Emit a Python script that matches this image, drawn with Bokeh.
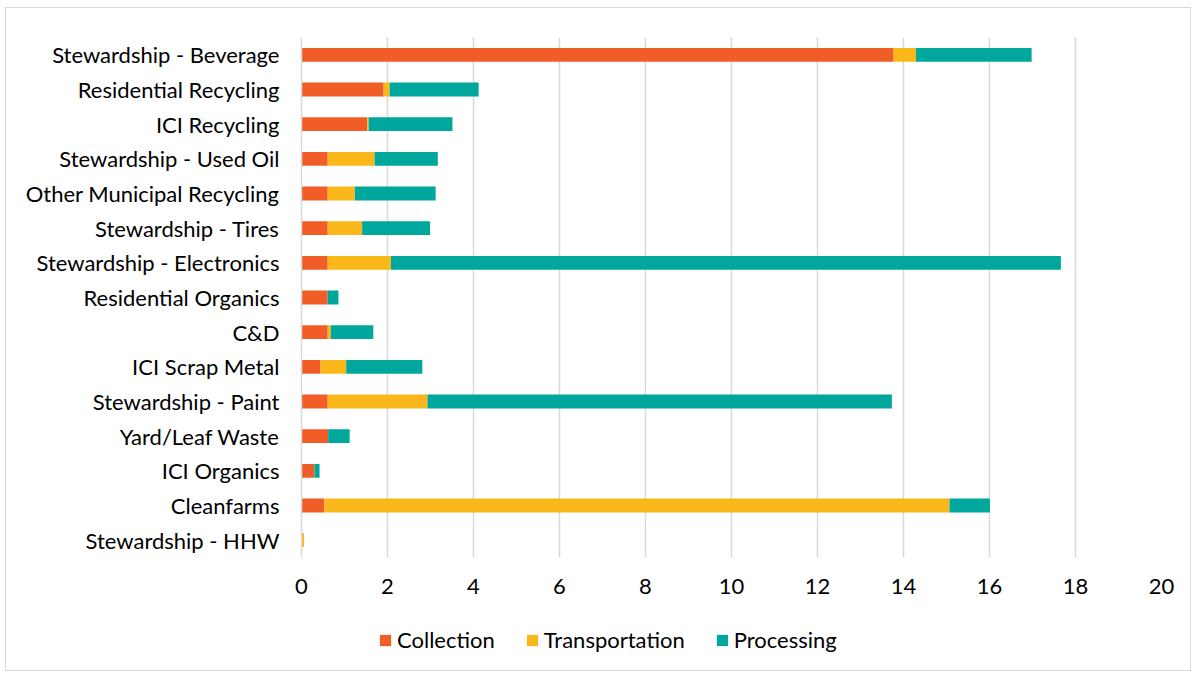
from bokeh.plotting import figure
from bokeh.layouts import column
from bokeh.models import FactorRange, Range1d, Legend, LegendItem, ColumnDataSource, FixedTicker
from bokeh.embed import file_html
from bokeh.resources import INLINE

categories = [
    "Stewardship - Beverage",
    "Residential Recycling",
    "ICI Recycling",
    "Stewardship - Used Oil",
    "Other Municipal Recycling",
    "Stewardship - Tires",
    "Stewardship - Electronics",
    "Residential Organics",
    "C&D",
    "ICI Scrap Metal",
    "Stewardship - Paint",
    "Yard/Leaf Waste",
    "ICI Organics",
    "Cleanfarms",
    "Stewardship - HHW",
]
collection = [13.77, 1.91, 1.53, 0.61, 0.61, 0.61, 0.61, 0.61, 0.61, 0.44, 0.61, 0.62, 0.30, 0.53, 0.0]
transportation = [0.52, 0.14, 0.03, 1.09, 0.63, 0.80, 1.47, 0.0, 0.07, 0.60, 2.32, 0.0, 0.0, 14.54, 0.06]
processing = [2.69, 2.07, 1.95, 1.47, 1.88, 1.58, 15.58, 0.25, 0.99, 1.77, 10.80, 0.50, 0.12, 0.94, 0.0]
series_names = ["Collection", "Transportation", "Processing"]
series_colors = ["#F15D27", "#F9B71A", "#00A79D"]
x_ticks = [0, 2, 4, 6, 8, 10, 12, 14, 16, 18, 20]

FONT = "Lato"
FS = "22px"
W = 1184

source = ColumnDataSource(dict(
    cat=categories,
    Collection=collection,
    Transportation=transportation,
    Processing=processing,
))

p = figure(
    width=W, height=610,
    y_range=FactorRange(*categories[::-1]),
    x_range=Range1d(x_ticks[0], x_ticks[-1]),
    output_backend="svg", toolbar_location=None,
    min_border_left=295, min_border_right=29,
    min_border_top=29, min_border_bottom=61,
)

renderers = p.hbar_stack(series_names, y="cat", height=0.4, color=series_colors,
                         line_color=None, source=source)

p.outline_line_color = None
p.ygrid.grid_line_color = None
p.xgrid.grid_line_color = "#d9d9d9"
p.xgrid.grid_line_width = 1.5
p.xaxis.ticker = FixedTicker(ticks=x_ticks)

p.xaxis.axis_line_color = None
p.xaxis.major_tick_line_color = None
p.xaxis.minor_tick_line_color = None
p.xaxis.major_label_standoff = 15
p.xaxis.major_label_text_font = FONT
p.xaxis.major_label_text_font_size = FS
p.xaxis.major_label_text_color = "#000000"

p.yaxis.axis_line_color = "#d9d9d9"
p.yaxis.axis_line_width = 1.5
p.yaxis.major_tick_line_color = None
p.yaxis.minor_tick_line_color = None
p.yaxis.major_label_standoff = 16
p.yaxis.major_label_text_font = FONT
p.yaxis.major_label_text_font_size = FS
p.yaxis.major_label_text_color = "#000000"

# legend strip below the chart (its frame is aligned with the main chart's frame)
lg = figure(
    width=W, height=52,
    x_range=Range1d(0, 1), y_range=Range1d(0, 1),
    output_backend="svg", toolbar_location=None,
    min_border=0, min_border_left=0, min_border_right=0,
    min_border_top=0, min_border_bottom=0,
)
lg.axis.visible = False
lg.grid.visible = False
lg.outline_line_color = None
swatches = [lg.hbar(y=[-5], left=[-5], right=[-4], height=0.5, color=c, line_color=None)
            for c in series_colors]

legend = Legend(
    items=[LegendItem(label=n, renderers=[r]) for n, r in zip(series_names, swatches)],
    orientation="horizontal",
    location=(77, 17),
    glyph_width=14, glyph_height=14,
    label_standoff=5, spacing=30,
    padding=0, margin=0,
    border_line_color=None, background_fill_alpha=0,
    label_text_font=FONT, label_text_font_size=FS,
    label_text_color="#000000",
)
lg.add_layout(legend)

layout = column(p, lg, spacing=0)
layout.styles = {"border": "1px solid #d9d9d9", "margin-left": "5px", "margin-top": "7px"}

open("out.html", "w").write(file_html(layout, INLINE))
